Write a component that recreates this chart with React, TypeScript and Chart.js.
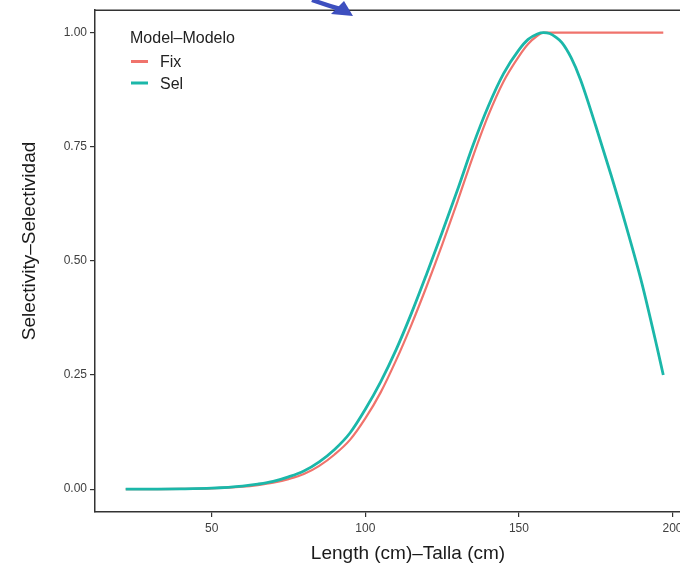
import React, { useEffect, useRef } from "react";
import { Chart, registerables } from "chart.js";

Chart.register(...registerables);

const lengths = [22, 30, 40, 50, 60, 65, 70, 75, 80, 85, 90, 95, 100, 105, 110, 115, 120, 125, 130, 135, 140, 145, 150, 153, 156, 158, 160, 162, 164, 167, 170, 175, 180, 185, 190, 195, 197];
const selValues = [0, 0.0002, 0.0007, 0.0023, 0.0068, 0.011, 0.017, 0.027, 0.04, 0.06, 0.087, 0.123, 0.175, 0.235, 0.305, 0.385, 0.472, 0.562, 0.655, 0.752, 0.838, 0.91, 0.962, 0.985, 0.997, 1.0, 0.998, 0.99, 0.978, 0.945, 0.898, 0.796, 0.688, 0.574, 0.452, 0.31, 0.25];
const fixValues = [0, 0.0002, 0.0005, 0.0018, 0.0055, 0.009, 0.014, 0.022, 0.033, 0.051, 0.076, 0.108, 0.155, 0.212, 0.282, 0.36, 0.445, 0.535, 0.63, 0.728, 0.818, 0.893, 0.948, 0.975, 0.993, 1.0, 1.0, 1.0, 1.0, 1.0, 1.0, 1.0, 1.0, 1.0, 1.0, 1.0, 1.0];
const seriesLabels = ["Fix", "Sel"];
const seriesColors = ["#F0736C", "#1BB7A9"];
const legendTitle = "Model–Modelo";
const xTitle = "Length (cm)–Talla (cm)";
const yTitle = "Selectivity–Selectividad";
const xTicks = [50, 100, 150, 200];
const yTicks = [0, 0.25, 0.5, 0.75, 1.0];

const FONT = '"Liberation Sans", Arial, sans-serif';

const decorPlugin = {
  id: "decor",
  afterDraw(chart: any) {
    const { ctx, chartArea } = chart;
    ctx.save();
    // top frame line
    ctx.strokeStyle = "#333333";
    ctx.lineWidth = 1.5;
    ctx.beginPath();
    ctx.moveTo(chartArea.left, chartArea.top);
    ctx.lineTo(chartArea.right, chartArea.top);
    ctx.stroke();

    // axis titles
    ctx.fillStyle = "#1a1a1a";
    ctx.font = `19px ${FONT}`;
    ctx.textAlign = "center";
    ctx.textBaseline = "middle";
    ctx.fillText(xTitle, 408, 554);
    ctx.save();
    ctx.translate(30, 241);
    ctx.rotate(-Math.PI / 2);
    ctx.fillText(yTitle, 0, 0);
    ctx.restore();

    // legend
    ctx.textAlign = "left";
    ctx.textBaseline = "alphabetic";
    ctx.font = `16px ${FONT}`;
    ctx.fillStyle = "#222222";
    ctx.fillText(legendTitle, 130, 43);
    const ds = chart.data.datasets;
    ds.forEach((d: any, i: number) => {
      const y = 61.5 + i * 21.5;
      ctx.strokeStyle = d.borderColor;
      ctx.lineWidth = 3;
      ctx.beginPath();
      ctx.moveTo(131, y);
      ctx.lineTo(148, y);
      ctx.stroke();
      ctx.fillStyle = "#222222";
      ctx.fillText(d.label, 160, y + 5.5);
    });

    // blue arrow artifact at top
    ctx.strokeStyle = "#3D4FBF";
    ctx.fillStyle = "#3D4FBF";
    ctx.lineWidth = 4.5;
    ctx.beginPath();
    ctx.moveTo(312, 0);
    ctx.quadraticCurveTo(326, 5, 340, 9);
    ctx.stroke();
    ctx.beginPath();
    ctx.moveTo(353, 16);
    ctx.lineTo(331, 14);
    ctx.lineTo(344, 1);
    ctx.closePath();
    ctx.fill();
    ctx.restore();
  },
};

export default function App() {
  const ref = useRef<HTMLCanvasElement | null>(null);
  useEffect(() => {
    if (!ref.current) return;
    const chart = new Chart(ref.current, {
      type: "line",
      data: {
        datasets: [
          {
            label: seriesLabels[0],
            data: lengths.map((l, i) => ({ x: l, y: fixValues[i] })),
            borderColor: seriesColors[0],
            borderWidth: 2.2,
            pointRadius: 0,
            cubicInterpolationMode: "monotone",
            order: 1,
          },
          {
            label: seriesLabels[1],
            data: lengths.map((l, i) => ({ x: l, y: selValues[i] })),
            borderColor: seriesColors[1],
            borderWidth: 2.8,
            pointRadius: 0,
            cubicInterpolationMode: "monotone",
            order: 0,
          },
        ],
      },
      options: {
        responsive: false,
        animation: false,
        layout: { padding: { left: 0, top: 7, right: 10, bottom: 0 } },
        plugins: { legend: { display: false }, tooltip: { enabled: false } },
        scales: {
          x: {
            type: "linear",
            min: 12,
            max: 205.7,
            afterBuildTicks: (s: any) => {
              s.ticks = xTicks.map((v) => ({ value: v }));
            },
            afterFit: (s: any) => {
              s.height = 57;
            },
            grid: { drawOnChartArea: false, drawTicks: true, tickLength: 5, color: "#333333", lineWidth: 1.2 },
            border: { display: true, color: "#333333", width: 1.5 },
            ticks: {
              font: { family: FONT, size: 12 },
              color: "#404040",
              padding: 4,
              maxRotation: 0,
              autoSkip: false,
              callback: (v: any) => String(v),
            },
          },
          y: {
            type: "linear",
            min: -0.05,
            max: 1.049,
            afterBuildTicks: (s: any) => {
              s.ticks = yTicks.map((v) => ({ value: v }));
            },
            afterFit: (s: any) => {
              s.width = 95;
            },
            grid: { drawOnChartArea: false, drawTicks: true, tickLength: 5, color: "#333333", lineWidth: 1.2 },
            border: { display: true, color: "#333333", width: 1.5 },
            ticks: {
              font: { family: FONT, size: 12 },
              color: "#404040",
              padding: 3,
              autoSkip: false,
              callback: (v: any) => Number(v).toFixed(2),
            },
          },
        },
      },
      plugins: [decorPlugin],
    } as any);
    return () => chart.destroy();
  }, []);

  return (
    <div style={{ position: "absolute", left: 0, top: 0, width: 680, height: 569, overflow: "hidden", background: "#ffffff" }}>
      <canvas ref={ref} width={700} height={569} style={{ width: 700, height: 569, display: "block" }} />
    </div>
  );
}
